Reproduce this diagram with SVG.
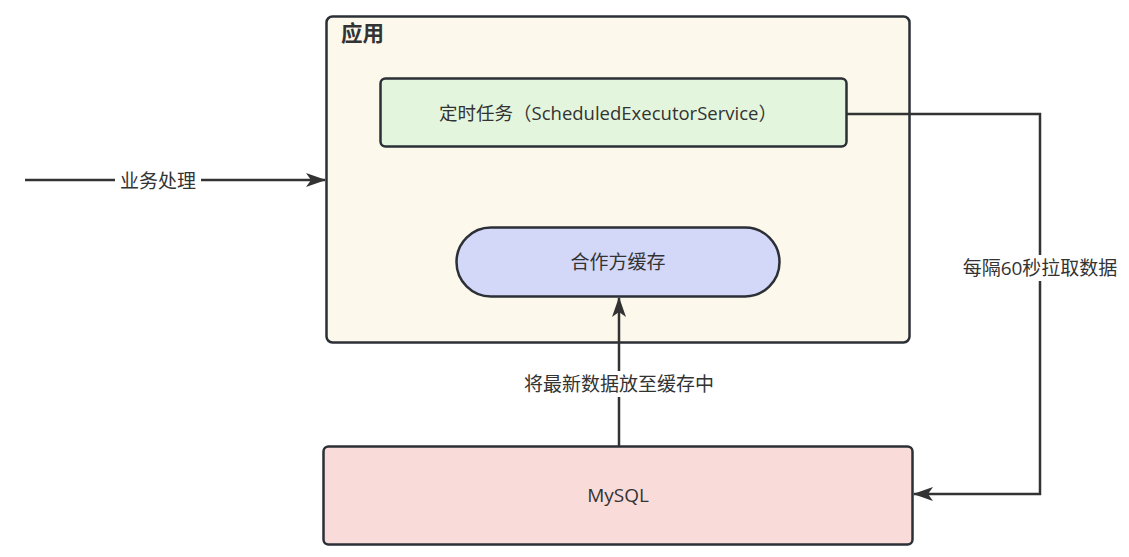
<svg xmlns="http://www.w3.org/2000/svg" width="1129" height="557" viewBox="0 0 1129 557">
<style>
.box{stroke:#2b2f36;stroke-width:2.5}
.t{font-family:"Open Sans","Noto Sans CJK SC",sans-serif;font-size:19px;fill:#333;text-anchor:middle;dominant-baseline:central}
.lbl{font-family:"Open Sans","Noto Sans CJK SC",sans-serif;font-size:19px;fill:#333;text-anchor:middle;dominant-baseline:central}
.e{fill:none;stroke:#333;stroke-width:2.5}
</style>
<defs>
<marker id="ah" markerWidth="20" markerHeight="14" refX="19" refY="7" orient="auto" markerUnits="userSpaceOnUse">
<path d="M0,0 L20,7 L0,14 L5,7 Z" fill="#333"/>
</marker>
</defs>
<rect width="1129" height="557" fill="#fff"/>
<g id="app">
<rect class="box" x="326.5" y="16.5" width="583" height="326" rx="6" fill="#fcf8eb"/>
<text x="341" y="31" font-family="'Noto Sans CJK SC',sans-serif" font-size="21.5" font-weight="bold" fill="#333" dominant-baseline="central">应用</text>
</g>
<g id="timer">
<rect class="box" x="380.5" y="78.5" width="466" height="68" rx="5" fill="#e3f5dd"/>
<text class="t" x="608" y="112" style="font-size:18.5px">定时任务（ScheduledExecutorService）</text>
</g>
<g id="cache">
<rect class="box" x="456.5" y="227.5" width="323" height="69" rx="34.5" fill="#d3d7f8"/>
<text class="t" x="618" y="262">合作方缓存</text>
</g>
<g id="mysql">
<rect class="box" x="323.5" y="446.5" width="589" height="98" rx="5" fill="#f9dcda"/>
<text class="t" x="618" y="495">MySQL</text>
</g>
<g id="connectors">
<path class="e" d="M25,180 L325,180" marker-end="url(#ah)"/>
<rect x="115" y="167" width="86" height="26" fill="#fff"/>
<text class="lbl" x="158" y="181">业务处理</text>
<path class="e" d="M847,114 L1040,114 L1040,494 L914,494" marker-end="url(#ah)"/>
<rect x="960" y="255" width="160" height="26" fill="#fff"/>
<text class="lbl" x="1040" y="268">每隔60秒拉取数据</text>
<path class="e" d="M619,446 L619,298" marker-end="url(#ah)"/>
<rect x="520" y="371" width="198" height="26" fill="#fff"/>
<text class="lbl" x="619" y="384">将最新数据放至缓存中</text>
</g>
</svg>
